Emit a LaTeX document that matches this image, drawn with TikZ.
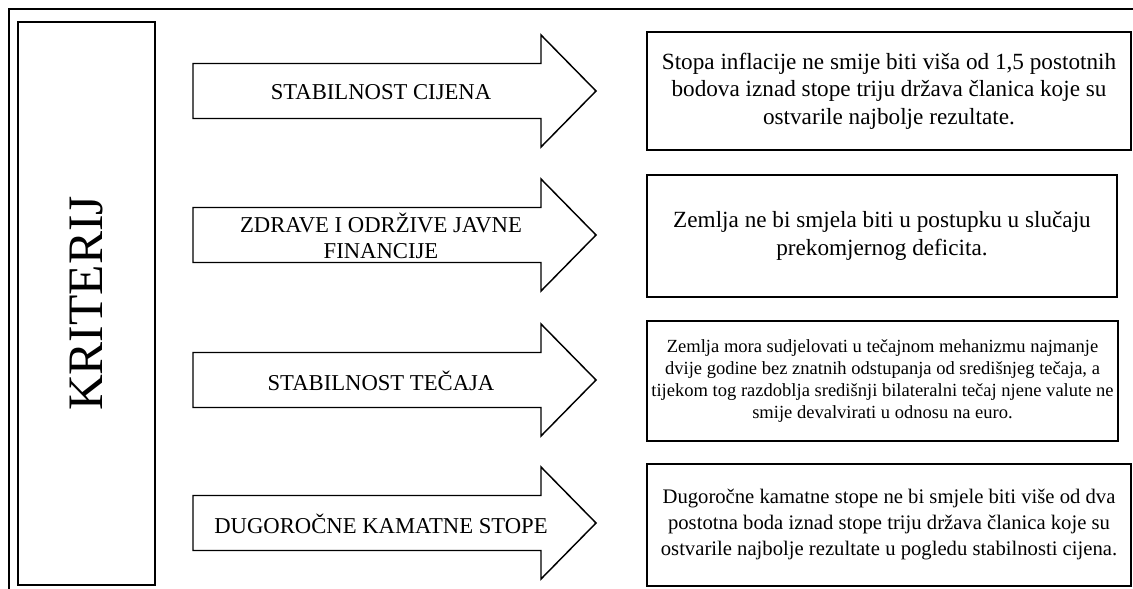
\documentclass[tikz,border=0pt]{standalone}
\usepackage{fontspec}
\setmainfont{Liberation Serif}
\begin{document}
\begin{tikzpicture}[x=0.75pt,y=-0.75pt,
  frameline/.style={line width=1.5pt},
  boxstyle/.style={draw, line width=1.1pt, inner sep=0pt, align=center},
  arrowstyle/.style={draw, line width=1.1pt, line join=miter},
  arrowlabel/.style={font=\fontsize{17}{19.5}\selectfont, align=center, inner sep=0pt},
  bigtext/.style={font=\fontsize{17.4}{20.6}\selectfont},
  smalltext/.style={font=\fontsize{13.9}{16.6}\selectfont},
  midtext/.style={font=\fontsize{15.5}{19.5}\selectfont}]
\useasboundingbox (0,0) rectangle (1133,589);
\clip (0,0) rectangle (1133,589);
% outer frame
\draw[frameline] (8.5,600) -- (8.5,8.5) -- (1140,8.5);
% KRITERIJ box
\node[boxstyle, minimum width=102.75pt, minimum height=422.25pt] (krit) at (86.5,303.5) {};
\node[rotate=90, font=\fontsize{37.2}{40}\selectfont, inner sep=0pt] (kritlabel) at (krit.center) {KRITERIJ};
% arrows
\foreach \cy in {91,235,380,523}{
  \draw[arrowstyle] (193,\cy-27.5) -- (541,\cy-27.5) -- (541,\cy-56) -- (596,\cy)
    -- (541,\cy+56) -- (541,\cy+27.5) -- (193,\cy+27.5) -- cycle;
}
\node[arrowlabel] (a1) at (381,92) {STABILNOST CIJENA};
\node[arrowlabel] (a2) at (381,236) {ZDRAVE I ODRŽIVE JAVNE\\FINANCIJE};
\node[arrowlabel] (a3) at (381,381) {STABILNOST TEČAJA};
\node[arrowlabel] (a4) at (381,524) {DUGOROČNE KAMATNE STOPE};
% right boxes
\node[boxstyle, bigtext, minimum width=363pt, minimum height=88.5pt] (b1) at (889,91)
  {Stopa inflacije ne smije biti viša od 1,5 postotnih\\bodova iznad stope triju država članica koje su\\ostvarile najbolje rezultate.};
\node[boxstyle, bigtext, minimum width=352.5pt, minimum height=91.5pt] (b2) at (882,236)
  {Zemlja ne bi smjela biti u postupku u slučaju\\prekomjernog deficita.};
\node[boxstyle, smalltext, minimum width=353.25pt, minimum height=90pt] (b3) at (882.5,381)
  {Zemlja mora sudjelovati u tečajnom mehanizmu najmanje\\dvije godine bez znatnih odstupanja od središnjeg tečaja, a\\tijekom tog razdoblja središnji bilateralni tečaj njene valute ne\\smije devalvirati u odnosu na euro.};
\node[boxstyle, midtext, minimum width=363pt, minimum height=91.5pt] (b4) at (889,525)
  {Dugoročne kamatne stope ne bi smjele biti više od dva\\postotna boda iznad stope triju država članica koje su\\ostvarile najbolje rezultate u pogledu stabilnosti cijena.};
\end{tikzpicture}
\end{document}
